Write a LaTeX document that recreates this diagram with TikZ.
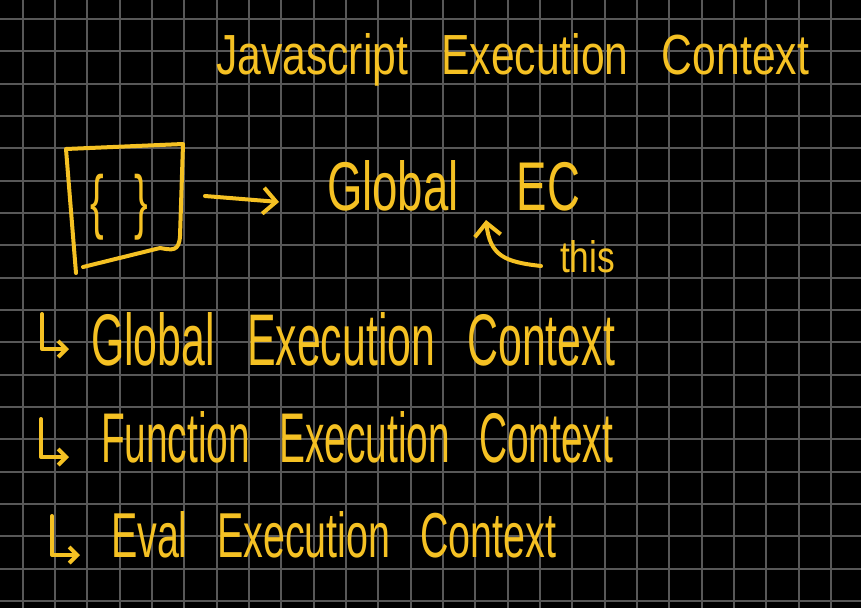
\documentclass[tikz,border=0pt]{standalone}
\usepackage{fontspec}
\setmainfont{Liberation Sans}
\usetikzlibrary{arrows.meta}
\definecolor{chalk}{RGB}{245,193,35}
\definecolor{gridc}{RGB}{88,88,88}
\newcommand{\wsp}{\hspace{0.75em}}
\begin{document}
\begin{tikzpicture}[x=1pt,y=-1pt,
  hw/.style={text=chalk, inner sep=0pt, outer sep=0pt, anchor=base west},
  ink/.style={draw=chalk, line width=4pt, line cap=round, line join=round},
  barb/.style={-{Straight Barb[length=13pt,width=26pt]}},
  smallbarb/.style={-{Straight Barb[length=8pt,width=16pt]}}]
\fill[black] (0,0) rectangle (861,608);
\useasboundingbox (0,0) rectangle (861,608);
\foreach \k in {0,...,25} \draw[gridc, line width=2pt] ({22.7+32.33*\k},0) -- ({22.7+32.33*\k},608);
\foreach \k in {0,...,18} \draw[gridc, line width=2pt] (0,{19+32.33*\k}) -- (861,{19+32.33*\k});
% title
\node[hw] (title) at (216,74) {\resizebox{593pt}{41pt}{Javascript\hspace{0.5em} Execution\hspace{0.5em} Context}};
% code box
\coordinate (tl) at (66,149);
\coordinate (tr) at (183,144);
\coordinate (bl) at (76,273);
\draw[ink] (bl) -- (tl) -- (tr) -- (180,236) .. controls (179,252) and (172,250) .. (160,248) -- (83,267);
\node[hw, anchor=north west] (braces) at (90,174) {\resizebox*{58pt}{66pt}{\{\wsp\}}};
% arrow to Global EC
\coordinate (a1) at (205,196);
\coordinate (a2) at (279,202);
\draw[ink,barb] (a1) -- (a2);
\node[hw] (gec) at (327,210) {\resizebox{253pt}{50pt}{Global\hspace{1em} EC}};
% this
\node[hw] (this) at (560,272) {\resizebox{55pt}{32pt}{this}};
\coordinate (t1) at (541,266);
\coordinate (t2) at (486,220);
\draw[ink,barb] (t1) .. controls (505,262) and (490,256) .. (t2);
% list
\coordinate (m1a) at (42,314); \coordinate (m1b) at (42,349); \coordinate (m1c) at (69,349);
\draw[ink,smallbarb] (m1a) -- (m1b) -- (m1c);
\node[hw] (l1) at (91,365) {\resizebox{524pt}{53pt}{Global\wsp Execution\wsp Context}};
\coordinate (m2a) at (41,419); \coordinate (m2b) at (41,457); \coordinate (m2c) at (69,457);
\draw[ink,smallbarb] (m2a) -- (m2b) -- (m2c);
\node[hw] (l2) at (101,462) {\resizebox{512pt}{51pt}{Function\wsp Execution\wsp Context}};
\coordinate (m3a) at (52,516); \coordinate (m3b) at (52,555); \coordinate (m3c) at (80,555);
\draw[ink,smallbarb] (m3a) -- (m3b) -- (m3c);
\node[hw] (l3) at (111,557) {\resizebox{445pt}{46pt}{Eval\wsp Execution\wsp Context}};
\end{tikzpicture}
\end{document}
